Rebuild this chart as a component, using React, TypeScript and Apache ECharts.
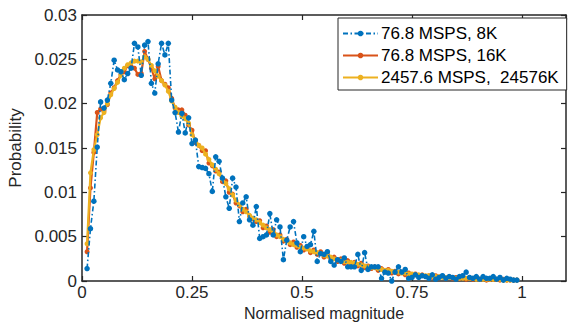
import React, { useEffect, useRef } from "react";
import * as echarts from "echarts";

// Histogram bin centres: 130 bins over [0,1], points shown from the 2nd bin on
const BIN_COUNT = 130;
const FIRST_BIN = 1;

const seriesNames = ["76.8 MSPS, 8K", "76.8 MSPS, 16K", "2457.6 MSPS,  24576K"];
const xTicks = [0, 0.25, 0.5, 0.75, 1];
const yTicks = [0, 0.005, 0.01, 0.015, 0.02, 0.025, 0.03];

const blue8K = [
  0.0014, 0.0059, 0.0090, 0.0151, 0.0202, 0.0195, 0.0204, 0.0223, 0.0249, 0.0238,
  0.0236, 0.0227, 0.0234, 0.0240, 0.0268, 0.0264, 0.0232, 0.0266, 0.0270, 0.0223,
  0.0212, 0.0245, 0.0268, 0.0255, 0.0268, 0.0204, 0.0190, 0.0168, 0.0189, 0.0167,
  0.0184, 0.0155, 0.0159, 0.0129, 0.0128, 0.0127, 0.0121, 0.0101, 0.0140, 0.0135,
  0.0116, 0.0095, 0.0082, 0.0116, 0.0106, 0.0067, 0.0088, 0.0095, 0.0069, 0.0063,
  0.0084, 0.0048, 0.0050, 0.0052, 0.0076, 0.0052, 0.0069, 0.0061, 0.0024, 0.0046,
  0.0061, 0.0067, 0.0043, 0.0033, 0.0050, 0.0039, 0.0041, 0.0056, 0.0022, 0.0031,
  0.0030, 0.0033, 0.0022, 0.0018, 0.0024, 0.0022, 0.0026, 0.0016, 0.0016, 0.0016,
  0.0030, 0.0012, 0.0032, 0.0013, 0.0016, 0.0016, 0.0016, 0.0003, 0.0010, 0.0009,
  0.0000, 0.0010, 0.0016, 0.0010, 0.0013, 0.0003, 0.0004, 0.0007, 0.0004, 0.0006,
  0.0005, 0.0003, 0.0007, 0.0002, 0.0004, 0.0006, 0.0003, 0.0005, 0.0004, 0.0002,
  0.0005, 0.0006, 0.0010, 0.0004, 0.0003, 0.0005, 0.0002, 0.0005, 0.0003, 0.0003,
  0.0005, 0.0002, 0.0004, 0.0001, 0.0003, 0.0002, 0.0001, 0.0001,
];

const orange16K = [
  0.0033, 0.0105, 0.0145, 0.0190, 0.0194, 0.0192, 0.0199, 0.0212, 0.0218, 0.0226,
  0.0233, 0.0236, 0.0243, 0.0242, 0.0240, 0.0233, 0.0234, 0.0259, 0.0250, 0.0240,
  0.0228, 0.0242, 0.0226, 0.0222, 0.0218, 0.0206, 0.0195, 0.0193, 0.0193, 0.0187,
  0.0176, 0.0170, 0.0156, 0.0153, 0.0147, 0.0147, 0.0133, 0.0130, 0.0124, 0.0123,
  0.0112, 0.0113, 0.0100, 0.0098, 0.0088, 0.0085, 0.0078, 0.0081, 0.0073, 0.0070,
  0.0067, 0.0068, 0.0060, 0.0062, 0.0055, 0.0058, 0.0050, 0.0052, 0.0045, 0.0047,
  0.0041, 0.0044, 0.0038, 0.0040, 0.0035, 0.0038, 0.0032, 0.0035, 0.0030, 0.0033,
  0.0027, 0.0030, 0.0025, 0.0027, 0.0022, 0.0025, 0.0020, 0.0023, 0.0019, 0.0021,
  0.0017, 0.0020, 0.0015, 0.0017, 0.0014, 0.0016, 0.0012, 0.0014, 0.0011, 0.0013,
  0.0009, 0.0011, 0.0008, 0.0010, 0.0007, 0.0009, 0.0006, 0.0008, 0.0006, 0.0007,
  0.0005, 0.0006, 0.0004, 0.0006, 0.0004, 0.0005, 0.0003, 0.0005, 0.0003, 0.0004,
  0.0003, 0.0004, 0.0002, 0.0003, 0.0002, 0.0003, 0.0002, 0.0003, 0.0001, 0.0002,
  0.0002, 0.0002, 0.0001, 0.0002, 0.0001, 0.0001, 0.0001, 0.0001,
];

const yellow24576K = [
  0.0042, 0.0122, 0.0148, 0.0165, 0.0184, 0.0190, 0.0200, 0.0210, 0.0217, 0.0224,
  0.0232, 0.0240, 0.0244, 0.0246, 0.0248, 0.0248, 0.0247, 0.0253, 0.0250, 0.0243,
  0.0237, 0.0231, 0.0226, 0.0221, 0.0214, 0.0203, 0.0196, 0.0190, 0.0186, 0.0183,
  0.0178, 0.0165, 0.0159, 0.0153, 0.0150, 0.0143, 0.0137, 0.0131, 0.0126, 0.0121,
  0.0115, 0.0110, 0.0104, 0.0097, 0.0091, 0.0086, 0.0081, 0.0078, 0.0074, 0.0071,
  0.0069, 0.0066, 0.0063, 0.0060, 0.0058, 0.0055, 0.0052, 0.0050, 0.0047, 0.0045,
  0.0043, 0.0041, 0.0040, 0.0038, 0.0037, 0.0036, 0.0034, 0.0033, 0.0032, 0.0031,
  0.0029, 0.0028, 0.0027, 0.0025, 0.0024, 0.0023, 0.0022, 0.0021, 0.0021, 0.0020,
  0.0019, 0.0018, 0.0017, 0.0016, 0.0015, 0.0015, 0.0014, 0.0013, 0.0012, 0.0012,
  0.0011, 0.0010, 0.0010, 0.0009, 0.0009, 0.0008, 0.0008, 0.0007, 0.0007, 0.0006,
  0.0006, 0.0006, 0.0005, 0.0005, 0.0005, 0.0004, 0.0004, 0.0004, 0.0004, 0.0003,
  0.0003, 0.0003, 0.0003, 0.0003, 0.0003, 0.0002, 0.0002, 0.0002, 0.0002, 0.0002,
  0.0002, 0.0002, 0.0002, 0.0001, 0.0001, 0.0001, 0.0001, 0.0001,
];

const BLUE = "#0072BD";
const ORANGE = "#D95319";
const YELLOW = "#EDB120";
const AXIS = "#262626";
const FONT = "'Liberation Sans', Arial, Helvetica, sans-serif";

const toPairs = (vals: number[]) =>
  vals.map((v, i) => [(i + FIRST_BIN + 0.5) / BIN_COUNT, v]);

const fmtY = (v: number) => {
  const r = Math.round(v * 1000) / 1000;
  return yTicks.some((t) => Math.abs(t - r) < 1e-9) ? String(r) : "";
};
const fmtX = (v: number) => {
  const r = Math.round(v * 100) / 100;
  return xTicks.some((t) => Math.abs(t - r) < 1e-9) ? String(r) : "";
};

export default function App() {
  const ref = useRef<HTMLDivElement>(null);
  useEffect(() => {
    if (!ref.current) return;
    const chart = echarts.init(ref.current, undefined, { renderer: "svg" });
    const axisLine = { show: true, onZero: false, lineStyle: { color: AXIS, width: 1.5 } };
    const tick = { show: true, inside: true, length: 5, lineStyle: { color: AXIS, width: 1.2 } };
    chart.setOption({
      animation: false,
      backgroundColor: "#fff",
      textStyle: { fontFamily: FONT },
      grid: {
        left: 82,
        top: 15,
        right: 4,
        bottom: 41,
        containLabel: false,
        outerBoundsMode: "none",
      },
      legend: {
        show: true,
        orient: "vertical",
        left: 338,
        top: 18,
        data: seriesNames,
        backgroundColor: "#fff",
        borderColor: AXIS,
        borderWidth: 1,
        borderRadius: 0,
        padding: [7, 8, 4, 4],
        itemWidth: 35,
        itemHeight: 7,
        itemGap: 5,
        textStyle: { color: "#000", fontSize: 17, fontFamily: FONT, padding: [0, 0, 0, -2] },
      },
      xAxis: [
        {
          type: "value",
          min: 0,
          max: 1.1,
          interval: 0.25,
          position: "bottom",
          axisLine,
          axisTick: tick,
          splitLine: { show: false },
          axisLabel: { color: AXIS, fontSize: 17, margin: 3, formatter: fmtX, showMaxLabel: false },
          name: "Normalised magnitude",
          nameLocation: "middle",
          nameGap: 20,
          nameTextStyle: { color: AXIS, fontSize: 16, verticalAlign: "top" },
        },
        {
          type: "value",
          min: 0,
          max: 1.1,
          interval: 0.25,
          position: "top",
          axisLine,
          axisTick: tick,
          splitLine: { show: false },
          axisLabel: { show: false },
        },
      ],
      yAxis: [
        {
          type: "value",
          min: 0,
          max: 0.03,
          interval: 0.005,
          position: "left",
          axisLine,
          axisTick: tick,
          splitLine: { show: false },
          axisLabel: { color: AXIS, fontSize: 17, margin: 5, formatter: fmtY },
          name: "Probability",
          nameLocation: "middle",
          nameGap: 54,
          nameRotate: 90,
          nameTextStyle: { color: AXIS, fontSize: 17 },
        },
        {
          type: "value",
          min: 0,
          max: 0.03,
          interval: 0.005,
          position: "right",
          axisLine,
          axisTick: tick,
          splitLine: { show: false },
          axisLabel: { show: false },
        },
      ],
      series: [
        {
          name: seriesNames[0],
          type: "line",
          data: toPairs(blue8K),
          symbol: "circle",
          symbolSize: 5.5,
          showSymbol: true,
          z: 4,
          itemStyle: { color: BLUE },
          lineStyle: { color: BLUE, width: 1.6, type: [5, 2.5, 1.5, 2.5] },
        },
        {
          name: seriesNames[1],
          type: "line",
          data: toPairs(orange16K),
          symbol: "circle",
          symbolSize: 5,
          showSymbol: true,
          z: 2,
          itemStyle: { color: ORANGE },
          lineStyle: { color: ORANGE, width: 2.2 },
        },
        {
          name: seriesNames[2],
          type: "line",
          data: toPairs(yellow24576K),
          symbol: "circle",
          symbolSize: 5,
          showSymbol: true,
          z: 3,
          itemStyle: { color: YELLOW },
          lineStyle: { color: YELLOW, width: 2.2 },
        },
      ],
    });
    return () => chart.dispose();
  }, []);
  return (
    <div
      ref={ref}
      style={{ width: 570, height: 322, position: "absolute", left: 0, top: 0 }}
    />
  );
}
